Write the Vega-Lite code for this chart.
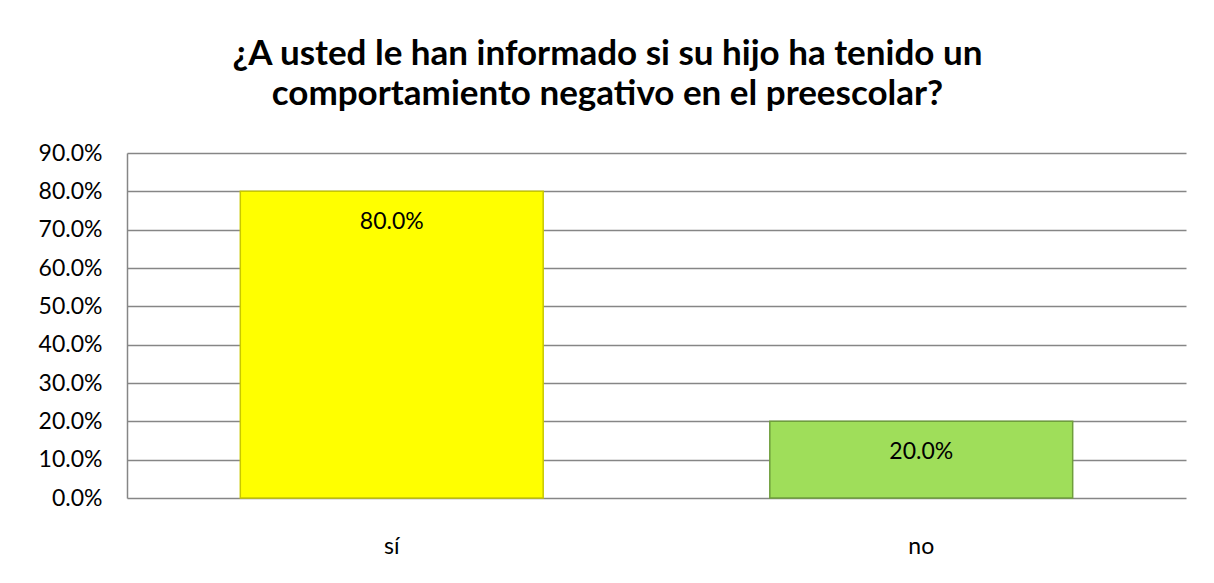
{
  "$schema": "https://vega.github.io/schema/vega-lite/v6.json",
  "autosize": {"type": "none"},
  "width": 1059,
  "height": 345,
  "padding": {"left": 127, "top": 153, "right": 28, "bottom": 85},
  "background": "white",
  "title": {
    "text": ["¿A usted le han informado si su hijo ha tenido un", "comportamiento negativo en el preescolar?"],
    "font": "Lato",
    "fontSize": 35,
    "fontWeight": "bold",
    "color": "#000000",
    "anchor": "middle",
    "dx": -49,
    "offset": 30,
    "lineHeight": 40
  },
  "data": {
    "values": [
      {"respuesta": "sí", "porcentaje": 0.8},
      {"respuesta": "no", "porcentaje": 0.2}
    ]
  },
  "config": {
    "view": {"stroke": null},
    "font": "Lato"
  },
  "encoding": {
    "x": {
      "field": "respuesta",
      "type": "nominal",
      "sort": ["sí", "no"],
      "scale": {"paddingInner": 0.428, "paddingOuter": 0.214},
      "axis": {
        "title": null,
        "labelAngle": 0,
        "labelFont": "Lato",
        "labelFontSize": 23,
        "labelColor": "#000000",
        "labelBaseline": "middle",
        "labelPadding": 48,
        "ticks": false,
        "domain": false
      }
    },
    "y": {
      "field": "porcentaje",
      "type": "quantitative",
      "scale": {"domain": [0, 0.9], "nice": false},
      "axis": {
        "title": null,
        "format": ".1%",
        "values": [0, 0.1, 0.2, 0.3, 0.4, 0.5, 0.6, 0.7, 0.8, 0.9],
        "labelFont": "Lato",
        "labelFontSize": 23,
        "labelColor": "#000000",
        "labelPadding": 25,
        "ticks": false,
        "domain": true,
        "domainColor": "#868686",
        "domainWidth": 1.5,
        "grid": true,
        "gridColor": "#868686",
        "gridWidth": 1.5
      }
    }
  },
  "layer": [
    {
      "mark": {"type": "bar", "strokeWidth": 1.5},
      "encoding": {
        "color": {
          "field": "respuesta",
          "type": "nominal",
          "scale": {"domain": ["sí", "no"], "range": ["#FFFF00", "#9FDE5A"]},
          "legend": null
        },
        "stroke": {
          "field": "respuesta",
          "type": "nominal",
          "scale": {"domain": ["sí", "no"], "range": ["#C8C800", "#6F9E3C"]},
          "legend": null
        }
      }
    },
    {
      "mark": {"type": "text", "baseline": "middle", "dy": 31, "fontSize": 23, "font": "Lato", "color": "#000000"},
      "encoding": {
        "text": {"field": "porcentaje", "type": "quantitative", "format": ".1%"}
      }
    }
  ]
}
